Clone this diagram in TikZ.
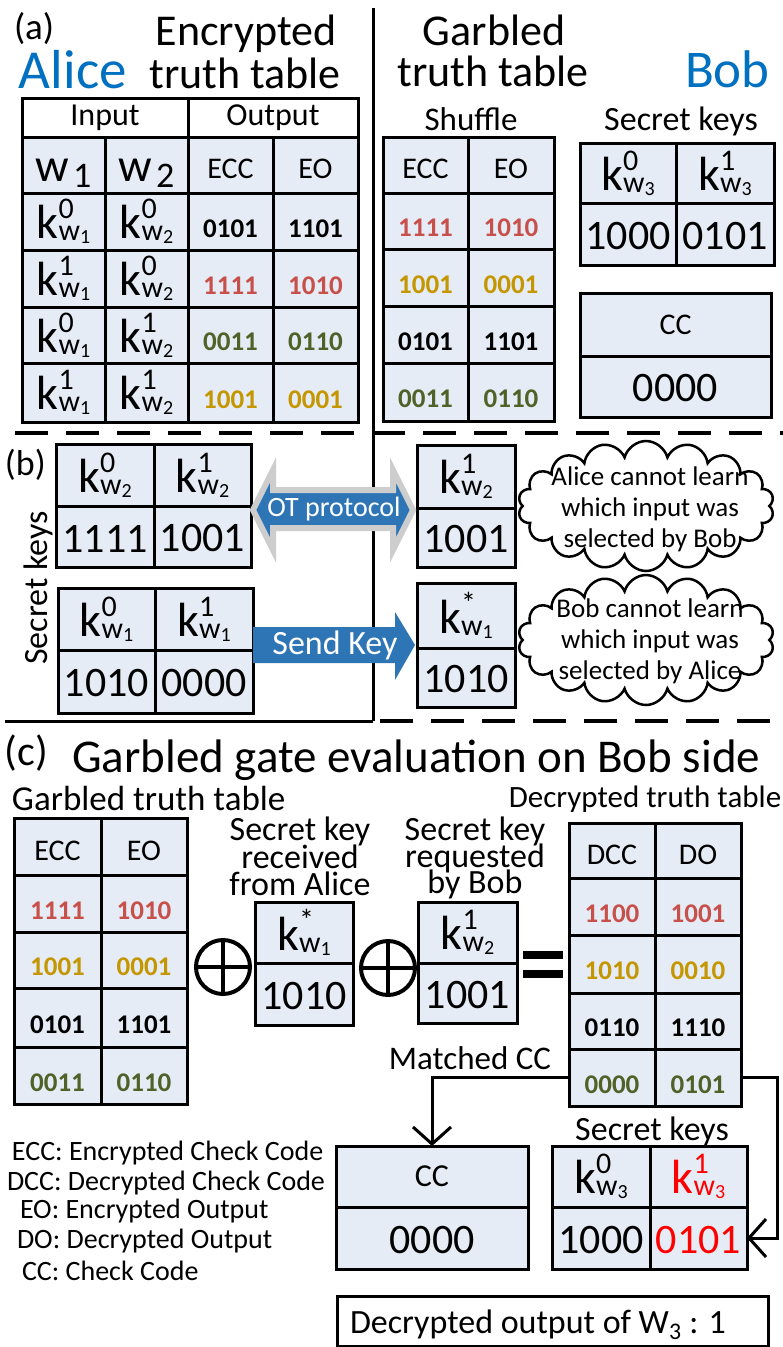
\documentclass[tikz,border=0pt]{standalone}
\usepackage{fontspec}
\setmainfont{Carlito}
\usetikzlibrary{shapes.symbols,arrows.meta}

\definecolor{cellfill}{RGB}{230,236,246}
\definecolor{numred}{RGB}{200,80,75}
\definecolor{numgold}{RGB}{196,150,0}
\definecolor{numgreen}{RGB}{79,98,40}
\definecolor{arrowblue}{RGB}{46,117,182}
\definecolor{nameblue}{RGB}{0,112,192}
\definecolor{glowgray}{RGB}{205,205,205}
\definecolor{keyred}{RGB}{255,0,0}

\newcommand{\fs}[1]{\fontsize{#1}{#1}\selectfont}
% key symbol k^{sup}_{w_{sub}}
\newcommand{\kw}[3][black]{{\color{#1}\fs{48}k\fs{30}\rlap{\raisebox{20pt}{#2}}\raisebox{-2pt}{w\fs{20}\raisebox{-3pt}{#3}}}}
% wire name w_n
\newcommand{\wsub}[1]{\raisebox{-8pt}[\height][\depth]{\fs{47}w\hspace{4pt}\raisebox{-6pt}{\fs{36}#1}}}
% small bold bit strings
\newcommand{\bits}[2]{\raisebox{-7pt}[\height][\depth]{\color{#1}\bfseries\fs{27}#2}}
% column headers
\newcommand{\hdr}[1]{\raisebox{-4pt}[\height][\depth]{\fs{30}#1}}
% large key values
\newcommand{\bignum}[2][black]{\raisebox{-2pt}[\height][\depth]{\color{#1}\fs{42}#2}}
% table cell: [style]{name}{x1}{y1}{x2}{y2}{text}
\newcommand{\tcell}[7][]{%
  \pgfmathsetmacro{\cwid}{#5-#3}%
  \pgfmathsetmacro{\chgt}{#6-#4}%
  \node[cellbox, minimum width=\cwid pt, minimum height=\chgt pt, anchor=north west, #1] (#2) at (#3,#4) {#7};%
}

\begin{document}
\begin{tikzpicture}[x=1pt,y=-1pt,
  cellbox/.style={draw, line width=3pt, fill=cellfill, inner sep=0pt, outer sep=0pt, rectangle},
  divider/.style={line width=3pt},
  dashdiv/.style={line width=4pt, dash pattern=on 33pt off 18pt},
  label/.style={inner sep=0pt, outer sep=0pt},
  conn/.style={line width=3pt, -{Straight Barb[length=17pt,width=38pt]}},
  xor/.style={circle, draw, line width=4pt, minimum size=54pt, inner sep=0pt, outer sep=0pt},
  eqbar/.style={fill=black, minimum width=40pt, minimum height=8pt, inner sep=0pt},
  cloudshape/.style={cloud, cloud puffs=18, cloud ignores aspect, draw, line width=2.5pt, fill=white, minimum width=256pt, minimum height=130pt},
  cloudtext/.style={label, align=center, font=\fontsize{27}{31}\selectfont}
]
\useasboundingbox[fill=white] (0,0) rectangle (783,1347);

% ---------- section dividers ----------
\draw[divider] (373,8) -- (373,721);
\draw[dashdiv] (15,433) -- (783,433);
\draw[divider] (5,721) -- (373,721);
\draw[dashdiv] (380,721) -- (783,721);

% ---------- (a) titles ----------
\node[label, anchor=base west, font=\fs{37}] (tagA) at (14,39) {(a)};
\node[label, anchor=base, font=\fs{44}] (encA) at (246,45) {Encrypted};
\node[label, anchor=base, font=\fs{44}] (encB) at (245,88) {truth table};
\node[label, anchor=base west, font=\fs{55}, text=nameblue] (alice) at (19,88) {Alice};
\node[label, anchor=base, font=\fs{44}] (garA) at (494,45) {Garbled};
\node[label, anchor=base, font=\fs{44}] (garB) at (493,86) {truth table};
\node[label, anchor=base west, font=\fs{53}, text=nameblue] (bob) at (685,87) {Bob};
\node[label, anchor=base, font=\fs{33}] (shuf) at (471,130) {Shuffle};
\node[label, anchor=base, font=\fs{34}] (bobkeys) at (681,130) {Secret keys};

% ---------- (a) encrypted truth table ----------
\tcell[fill=white]{inhead}{22}{98}{188}{137}{\fs{32}Input}
\tcell[fill=white]{outhead}{188}{98}{358}{137}{\fs{32}Output}
\tcell{aw1}{22}{137}{105}{193}{\wsub{1}}
\tcell{aw2}{105}{137}{188}{193}{\wsub{2}}
\tcell{aecc}{188}{137}{273}{193}{\hdr{ECC}}
\tcell{aeo}{273}{137}{358}{193}{\hdr{EO}}
\tcell{aa1}{22}{193}{105}{250}{\kw{0}{1}}
\tcell{ab1}{105}{193}{188}{250}{\kw{0}{2}}
\tcell{ac1}{188}{193}{273}{250}{\bits{black}{0101}}
\tcell{ad1}{273}{193}{358}{250}{\bits{black}{1101}}
\tcell{aa2}{22}{250}{105}{307}{\kw{1}{1}}
\tcell{ab2}{105}{250}{188}{307}{\kw{0}{2}}
\tcell{ac2}{188}{250}{273}{307}{\bits{numred}{1111}}
\tcell{ad2}{273}{250}{358}{307}{\bits{numred}{1010}}
\tcell{aa3}{22}{307}{105}{363}{\kw{0}{1}}
\tcell{ab3}{105}{307}{188}{363}{\kw{1}{2}}
\tcell{ac3}{188}{307}{273}{363}{\bits{numgreen}{0011}}
\tcell{ad3}{273}{307}{358}{363}{\bits{numgreen}{0110}}
\tcell{aa4}{22}{363}{105}{422}{\kw{1}{1}}
\tcell{ab4}{105}{363}{188}{422}{\kw{1}{2}}
\tcell{ac4}{188}{363}{273}{422}{\bits{numgold}{1001}}
\tcell{ad4}{273}{363}{358}{422}{\bits{numgold}{0001}}

% ---------- (a) shuffled garbled table ----------
\tcell{secc}{383}{137}{468}{193}{\hdr{ECC}}
\tcell{seo}{468}{137}{554}{193}{\hdr{EO}}
\tcell{sc1}{383}{193}{468}{249}{\bits{numred}{1111}}
\tcell{sd1}{468}{193}{554}{249}{\bits{numred}{1010}}
\tcell{sc2}{383}{249}{468}{306}{\bits{numgold}{1001}}
\tcell{sd2}{468}{249}{554}{306}{\bits{numgold}{0001}}
\tcell{sc3}{383}{306}{468}{363}{\bits{black}{0101}}
\tcell{sd3}{468}{306}{554}{363}{\bits{black}{1101}}
\tcell{sc4}{383}{363}{468}{421}{\bits{numgreen}{0011}}
\tcell{sd4}{468}{363}{554}{421}{\bits{numgreen}{0110}}

% ---------- (a) Bob's output keys and check code ----------
\tcell{bk0}{580}{143}{676}{203}{\kw{0}{3}}
\tcell{bk1}{676}{143}{774}{203}{\kw{1}{3}}
\tcell{bv0}{580}{203}{676}{265}{\bignum{1000}}
\tcell{bv1}{676}{203}{774}{265}{\bignum{0101}}
\tcell{bcch}{580}{293}{771}{356}{\fs{30}CC}
\tcell{bccv}{580}{356}{771}{417}{\bignum{0000}}

% ---------- (b) key exchange ----------
\node[label, anchor=base west, font=\fs{36}] (tagB) at (5,475) {(b)};
\node[label, rotate=90, font=\fs{34}] (skeys) at (38,588) {Secret keys};

\tcell{ok0}{56}{444}{154}{506}{\kw{0}{2}}
\tcell{ok1}{154}{444}{251}{506}{\kw{1}{2}}
\tcell{ov0}{56}{506}{154}{567}{\bignum{1111}}
\tcell{ov1}{154}{506}{251}{567}{\bignum{1001}}
\tcell{sk0}{58}{588}{155}{650}{\kw{0}{1}}
\tcell{sk1}{155}{588}{253}{650}{\kw{1}{1}}
\tcell{sv0}{58}{650}{155}{713}{\bignum{1010}}
\tcell{sv1}{155}{650}{253}{713}{\bignum{0000}}

\tcell{rk2}{417}{445}{515}{508}{\kw{1}{2}}
\tcell{rv2}{417}{508}{515}{567}{\bignum{1001}}
\tcell{rk1}{417}{583}{515}{648}{\kw{*}{1}}
\tcell{rv1}{417}{648}{515}{707}{\bignum{1010}}

% OT protocol double arrow
\draw[draw=glowgray, line width=6pt, line join=miter, fill=arrowblue]
  (253,510) -- (273,470) -- (273,490) -- (393,490) -- (393,470) -- (413,510)
  -- (393,550) -- (393,528) -- (273,528) -- (273,550) -- cycle;
\node[label, font=\fs{28}, text=white] (ottext) at (334,509) {OT protocol};
% Send Key arrow
\fill[arrowblue] (253,627) -- (395,627) -- (395,612) -- (415,645) -- (395,680)
  -- (395,663) -- (253,663) -- cycle;
\node[label, font=\fs{34}, text=white] (sendtext) at (335,645) {Send Key};

% thought clouds
\node[cloudshape] (cloud1) at (646,506) {};
\node[cloudtext] (cloud1txt) at (650,509) {Alice cannot learn\\which input was\\selected by Bob};
\node[cloudshape] (cloud2) at (646,640) {};
\node[cloudtext] (cloud2txt) at (650,641) {Bob cannot learn\\which input was\\selected by Alice};

% ---------- (c) evaluation ----------
\node[label, anchor=base west, font=\fs{42}] (tagC) at (5,765) {(c)};
\node[label, anchor=base west, font=\fs{47}] (titleC) at (72,772) {Garbled gate evaluation on Bob side};
\node[label, anchor=base west, font=\fs{35}] (gttl) at (12,810) {Garbled truth table};
\node[label, anchor=base, font=\fs{31}] (dttl) at (645,807) {Decrypted truth table};

\node[label, anchor=base, font=\fs{34}] (recA) at (300,840) {Secret key};
\node[label, anchor=base, font=\fs{34}] (recB) at (300,868) {received};
\node[label, anchor=base, font=\fs{34}] (recC) at (300,895) {from Alice};
\node[label, anchor=base, font=\fs{34}] (reqA) at (475,840) {Secret key};
\node[label, anchor=base, font=\fs{34}] (reqB) at (475,867) {requested};
\node[label, anchor=base, font=\fs{34}] (reqC) at (475,893) {by Bob};

% garbled table on Bob side
\tcell{gecc}{14}{818}{101}{875}{\hdr{ECC}}
\tcell{geo}{101}{818}{187}{875}{\hdr{EO}}
\tcell{gc1}{14}{875}{101}{932}{\bits{numred}{1111}}
\tcell{gd1}{101}{875}{187}{932}{\bits{numred}{1010}}
\tcell{gc2}{14}{932}{101}{988}{\bits{numgold}{1001}}
\tcell{gd2}{101}{932}{187}{988}{\bits{numgold}{0001}}
\tcell{gc3}{14}{988}{101}{1047}{\bits{black}{0101}}
\tcell{gd3}{101}{988}{187}{1047}{\bits{black}{1101}}
\tcell{gc4}{14}{1047}{101}{1104}{\bits{numgreen}{0011}}
\tcell{gd4}{101}{1047}{187}{1104}{\bits{numgreen}{0110}}

% xor with both keys
\node[xor] (xor1) at (223,967) {};
\draw[line width=4pt] (xor1.north) -- (xor1.south) (xor1.west) -- (xor1.east);
\tcell{ck1}{255}{902}{353}{963}{\kw{*}{1}}
\tcell{cv1}{255}{963}{353}{1025}{\bignum{1010}}
\node[xor] (xor2) at (388,968) {};
\draw[line width=4pt] (xor2.north) -- (xor2.south) (xor2.west) -- (xor2.east);
\tcell{ck2}{418}{902}{517}{963}{\kw{1}{2}}
\tcell{cv2}{418}{963}{517}{1023}{\bignum{1001}}
\node[eqbar] (eqtop) at (543,955) {};
\node[eqbar] (eqbot) at (543,974) {};

% decrypted table
\tcell{dcc}{569}{823}{655}{878}{\hdr{DCC}}
\tcell{ddo}{655}{823}{741}{878}{\hdr{DO}}
\tcell{dc1}{569}{878}{655}{935}{\bits{numred}{1100}}
\tcell{dd1}{655}{878}{741}{935}{\bits{numred}{1001}}
\tcell{dc2}{569}{935}{655}{993}{\bits{numgold}{1010}}
\tcell{dd2}{655}{935}{741}{993}{\bits{numgold}{0010}}
\tcell{dc3}{569}{993}{655}{1049}{\bits{black}{0110}}
\tcell{dd3}{655}{993}{741}{1049}{\bits{black}{1110}}
\tcell{dc4}{569}{1049}{655}{1106}{\bits{numgreen}{0000}}
\tcell{dd4}{655}{1049}{741}{1106}{\bits{numgreen}{0101}}

\node[label, anchor=base, font=\fs{33}] (matched) at (470,1069) {Matched CC};
\node[label, anchor=base, font=\fs{34}] (fkeys) at (652,1140) {Secret keys};

% check code and selected output key
\tcell{cch}{336}{1146}{528}{1207}{\fs{32}CC}
\tcell{ccv}{336}{1207}{528}{1269}{\bignum{0000}}
\tcell{fk0}{552}{1146}{650}{1207}{\kw{0}{3}}
\tcell{fk1}{650}{1146}{747}{1207}{\kw[keyred]{1}{3}}
\tcell{fv0}{552}{1207}{650}{1269}{\bignum{1000}}
\tcell{fv1}{650}{1207}{747}{1269}{\bignum[keyred]{0101}}

\draw[conn] (dc4.west) -| (cch.north);
\draw[conn] (dd4.east) -- ++(36,0) |- (fv1.east);

% legend
\node[label, anchor=base west, font=\fs{28}] (lg1) at (12,1160) {ECC: Encrypted Check Code};
\node[label, anchor=base west, font=\fs{28}] (lg2) at (7,1190) {DCC: Decrypted Check Code};
\node[label, anchor=base west, font=\fs{28}] (lg3) at (20,1218) {EO: Encrypted Output};
\node[label, anchor=base west, font=\fs{28}] (lg4) at (17,1248) {DO: Decrypted Output};
\node[label, anchor=base west, font=\fs{28}] (lg5) at (22,1280) {CC: Check Code};

% result
\node[draw, line width=3pt, fill=white, minimum width=431pt, minimum height=50pt, inner sep=0pt, anchor=north west] (resultbox) at (336,1295) {};
\node[label, anchor=base west, font=\fs{34}] (resulttxt) at (350,1333) {Decrypted output of W\textsubscript{3} : 1};
\end{tikzpicture}
\end{document}
